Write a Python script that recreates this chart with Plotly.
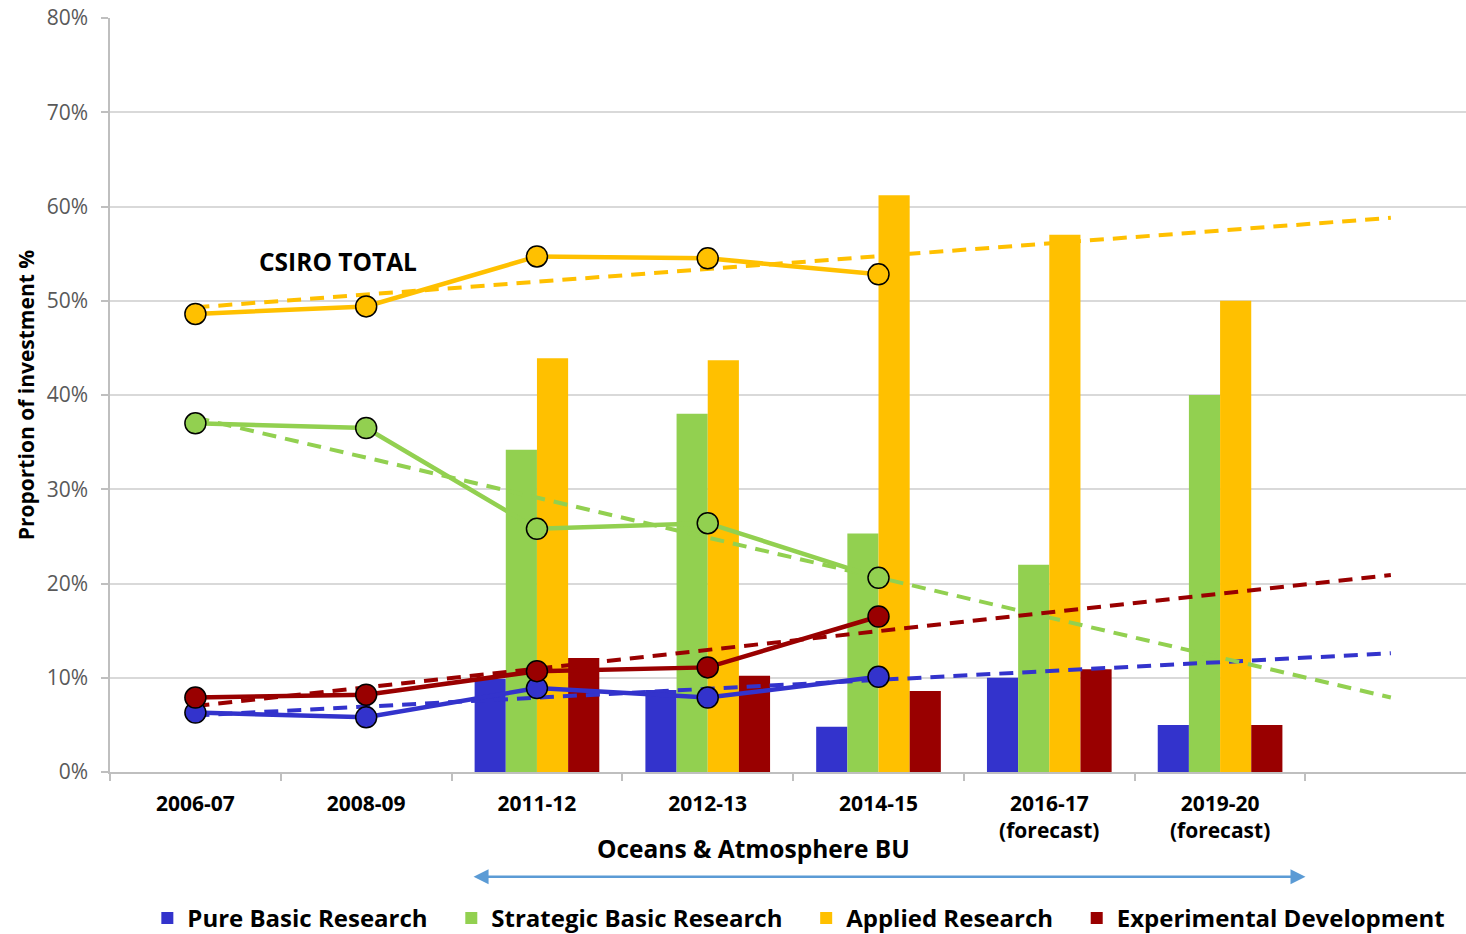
import plotly.graph_objects as go

categories = ["2006-07", "2008-09", "2011-12", "2012-13", "2014-15",
              "2016-17<br>(forecast)", "2019-20<br>(forecast)"]
series_names = ["Pure Basic Research", "Strategic Basic Research",
                "Applied Research", "Experimental Development"]
colors = ["#3333CC", "#92D050", "#FFC000", "#990000"]

# Oceans & Atmosphere BU bars (categories 2011-12 .. 2019-20)
bar_categories = ["2011-12", "2012-13", "2014-15", "2016-17<br>(forecast)", "2019-20<br>(forecast)"]
bar_pure = [9.9, 8.7, 4.8, 10.0, 5.0]
bar_strategic = [34.2, 38.0, 25.3, 22.0, 40.0]
bar_applied = [43.9, 43.7, 61.2, 57.0, 50.0]
bar_experimental = [12.1, 10.2, 8.6, 10.9, 5.0]

# CSIRO total lines (categories 2006-07 .. 2014-15)
line_categories = ["2006-07", "2008-09", "2011-12", "2012-13", "2014-15"]
line_pure = [6.3, 5.8, 8.9, 7.9, 10.1]
line_strategic = [37.0, 36.5, 25.8, 26.4, 20.6]
line_applied = [48.6, 49.4, 54.7, 54.5, 52.8]
line_experimental = [7.9, 8.2, 10.7, 11.1, 16.5]

# Linear trend lines: value at first category and at one step beyond the last category
trend_start = [6.0, 37.6, 49.3, 7.0]
trend_end = [12.6, 7.9, 58.8, 20.9]

y_ticks = [0, 10, 20, 30, 40, 50, 60, 70, 80]

FONT = "Open Sans"
pos = {c: i for i, c in enumerate(categories)}
trend_x = [0, len(categories)]

fig = go.Figure()

bars = [bar_pure, bar_strategic, bar_applied, bar_experimental]
lines = [line_pure, line_strategic, line_applied, line_experimental]

for name, col, vals in zip(series_names, colors, bars):
    fig.add_trace(go.Bar(
        x=[pos[c] for c in bar_categories], y=vals,
        name=name + "\u00a0\u00a0\u00a0", marker=dict(color=col, line=dict(width=0)),
        showlegend=True,
    ))

for col, s, e in zip(colors, trend_start, trend_end):
    fig.add_trace(go.Scatter(
        x=trend_x, y=[s, e], mode="lines",
        line=dict(color=col, width=4, dash="14px,9px"),
        showlegend=False, hoverinfo="skip",
    ))

for name, col, vals in zip(series_names, colors, lines):
    fig.add_trace(go.Scatter(
        x=[pos[c] for c in line_categories], y=vals, mode="lines+markers",
        line=dict(color=col, width=4.5),
        marker=dict(size=21, color=col, line=dict(color="black", width=1.5)),
        showlegend=False, name="CSIRO " + name,
    ))

fig.update_layout(
    width=1466, height=934,
    margin=dict(l=110, r=0, t=18, b=162, autoexpand=False),
    plot_bgcolor="white", paper_bgcolor="white",
    barmode="group", bargap=0.27, bargroupgap=0,
    font=dict(family=FONT, color="black"),
    legend=dict(orientation="h", x=0.515, xanchor="center", y=-0.194, yanchor="middle",
                font=dict(size=24, family=FONT, color="black", weight="bold"),
                itemwidth=30, traceorder="normal"),
    xaxis=dict(
        range=[-0.5, 7.44], tickmode="array",
        tickvals=list(range(len(categories))), ticktext=categories,
        ticks="", showgrid=False, zeroline=False,
        showline=True, linecolor="#BFBFBF", linewidth=1.5,
        ticklabelstandoff=12,
        tickfont=dict(size=21, family=FONT, color="black", weight="bold"),
        minor=dict(tick0=0.5, dtick=1, ticks="outside", ticklen=7,
                   tickcolor="#BFBFBF", tickwidth=1.5, showgrid=False),
    ),
    yaxis=dict(
        range=[0, 80], tickmode="array", tickvals=y_ticks,
        ticktext=[f"{v}%" for v in y_ticks],
        showgrid=True, gridcolor="#D9D9D9", gridwidth=1.5, zeroline=False,
        showline=True, linecolor="#BFBFBF", linewidth=1.5,
        ticks="outside", ticklen=7, tickcolor="#BFBFBF", tickwidth=1.5,
        ticklabelstandoff=9, ticklabeloverflow="allow",
        tickfont=dict(size=21, family=FONT, color="#595959"),
        title=dict(text="Proportion of investment %", standoff=6,
                   font=dict(size=21, family=FONT, color="black", weight="bold")),
    ),
)

fig.add_annotation(x=0.836, y=54.2, xref="x", yref="y", text="CSIRO TOTAL",
                   showarrow=False, font=dict(size=24.5, family=FONT, color="black", weight="bold"))
fig.add_annotation(x=3.27, y=-0.102, xref="x", yref="paper", text="Oceans & Atmosphere BU",
                   showarrow=False, yanchor="middle",
                   font=dict(size=24.5, family=FONT, color="black", weight="bold"))
fig.add_annotation(x=6.5, y=-0.139, xref="x", yref="paper",
                   ax=1.62, ay=0, axref="x", ayref="pixel",
                   showarrow=True, arrowside="end+start", arrowhead=2, arrowsize=1.2,
                   arrowwidth=2.5, arrowcolor="#5B9BD5", text="")

fig.write_html("out.html", config={"displayModeBar": False},
               post_script="document.body.style.margin='0';document.body.style.padding='0';")
